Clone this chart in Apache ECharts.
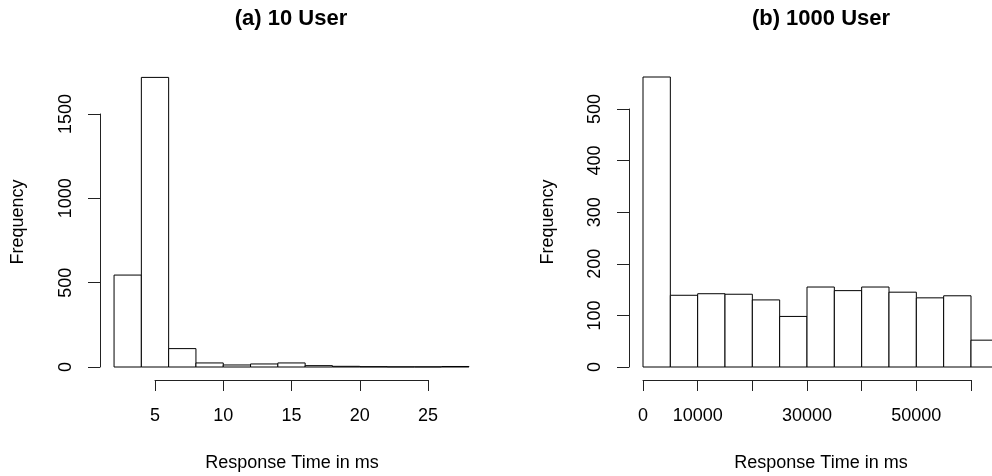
<!DOCTYPE html>
<html>

<head>
  <meta charset="utf-8">
  <title>Response time histograms</title>
  <script src="https://cdn.jsdelivr.net/npm/echarts@6/dist/echarts.min.js"></script>
</head>

<body style="margin:0;background:#fff">
  <div id="main" style="width: 992px;height:476px;"></div>
  <script type="text/javascript">
    // (a) 10 users: bin edges (ms) and counts
    var leftBreaks = [2, 4, 6, 8, 10, 12, 14, 16, 18, 20, 22, 24, 26, 28];
    var leftCounts = [545, 1717, 109, 24, 12, 18, 24, 8, 4, 2, 1, 1, 3];
    var leftXTicks = [5, 10, 15, 20, 25];
    var leftYTicks = [0, 500, 1000, 1500];

    // (b) 1000 users
    var rightBreaks = [0, 5000, 10000, 15000, 20000, 25000, 30000, 35000, 40000, 45000, 50000, 55000, 60000, 65000];
    var rightCounts = [562, 139, 142, 141, 130, 98, 155, 148, 155, 145, 134, 138, 52];
    var rightXTicks = [0, 10000, 20000, 30000, 40000, 50000, 60000];
    var rightXLabels = [0, 10000, 30000, 50000]; // R drops the ones that would overlap
    var rightYTicks = [0, 100, 200, 300, 400, 500];

    var titles = ['(a) 10 User', '(b) 1000 User'];
    var xName = 'Response Time in ms';
    var yName = 'Frequency';

    var FONT = 'Liberation Sans, Arial, sans-serif';
    var LINE = '#222';

    function bins(breaks, counts) {
      var out = [];
      for (var i = 0; i < counts.length; i++) {
        out.push([breaks[i], breaks[i + 1], counts[i]]);
      }
      return out;
    }

    // histogram bar = rectangle from [start,0] to [end,count]
    function renderBin(params, api) {
      var p0 = api.coord([api.value(0), api.value(2)]);
      var p1 = api.coord([api.value(1), 0]);
      return {
        type: 'rect',
        shape: { x: p0[0], y: p0[1], width: p1[0] - p0[0], height: p1[1] - p0[1] },
        style: { fill: '#fff', stroke: '#000', lineWidth: 1 }
      };
    }

    function xAxis(gi, ticks, shown, offset) {
      return {
        type: 'value', gridIndex: gi,
        min: ticks[0], max: ticks[ticks.length - 1], interval: ticks[1] - ticks[0],
        offset: offset,
        splitLine: { show: false },
        axisLine: { onZero: false, lineStyle: { color: LINE, width: 1 } },
        axisTick: { length: 11, lineStyle: { color: LINE } },
        axisLabel: {
          margin: 27, color: '#000', fontSize: 18, fontFamily: FONT,
          formatter: function (v) { return shown.indexOf(v) >= 0 ? String(v) : ''; }
        }
      };
    }

    function yAxis(gi, ticks, offset) {
      return {
        type: 'value', gridIndex: gi,
        min: ticks[0], max: ticks[ticks.length - 1], interval: ticks[1] - ticks[0],
        offset: offset,
        splitLine: { show: false },
        axisLine: { show: true, onZero: false, lineStyle: { color: LINE, width: 1 } },
        axisTick: { show: true, length: 12, lineStyle: { color: LINE } },
        axisLabel: {
          rotate: 90, margin: 25, color: '#000', fontSize: 18, fontFamily: FONT,
          formatter: function (v) { return String(v); }
        }
      };
    }

    function label(text, x, y, opts) {
      return {
        type: 'text', x: x, y: y, rotation: opts.rotation || 0,
        style: {
          text: text, fill: '#000', fontSize: opts.size || 18,
          fontWeight: opts.bold ? 'bold' : 'normal', fontFamily: FONT,
          align: 'center', verticalAlign: 'middle'
        }
      };
    }

    var myChart = echarts.init(document.getElementById('main'));

    var option = {
      animation: false,
      grid: [
        { left: 155, right: 564, top: 114, bottom: 109 },
        { left: 643, right: 21, top: 109, bottom: 109 }
      ],
      xAxis: [
        xAxis(0, leftXTicks, leftXTicks, 13),
        xAxis(1, rightXTicks, rightXLabels, 13)
      ],
      yAxis: [
        yAxis(0, leftYTicks, 55),
        yAxis(1, rightYTicks, 14)
      ],
      series: [
        { type: 'custom', xAxisIndex: 0, yAxisIndex: 0, clip: false, renderItem: renderBin, data: bins(leftBreaks, leftCounts) },
        { type: 'custom', xAxisIndex: 1, yAxisIndex: 1, clip: false, renderItem: renderBin, data: bins(rightBreaks, rightCounts) }
      ],
      graphic: [
        label(titles[0], 291, 19, { size: 22, bold: true }),
        label(titles[1], 821, 19, { size: 22, bold: true }),
        label(xName, 292, 463, {}),
        label(xName, 821, 463, {}),
        label(yName, 18, 222, { rotation: Math.PI / 2 }),
        label(yName, 548, 222, { rotation: Math.PI / 2 })
      ]
    };

    myChart.setOption(option);
  </script>
</body>

</html>
